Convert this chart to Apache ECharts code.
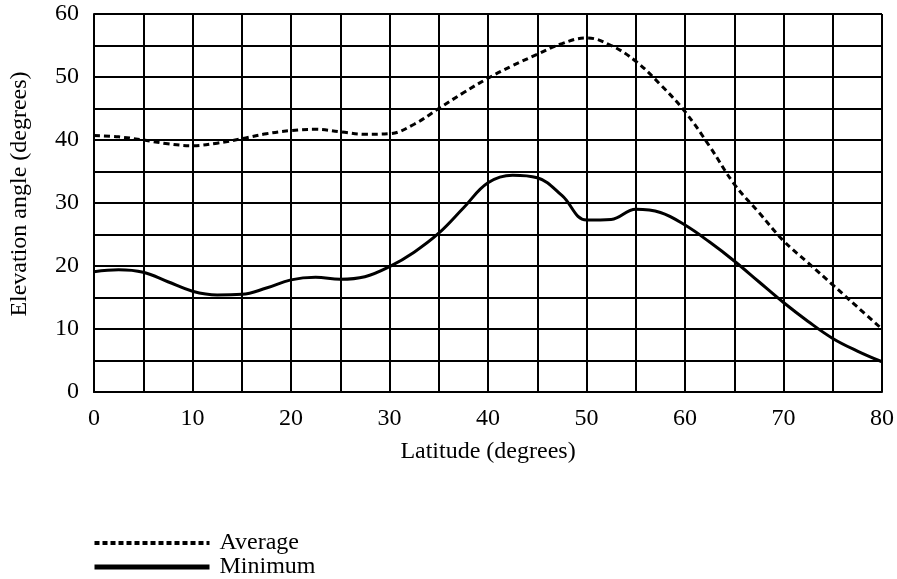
<!DOCTYPE html>
<html>
<head>
<meta charset="utf-8">
<script src="https://cdn.jsdelivr.net/npm/echarts@6/dist/echarts.min.js"></script>
<style>
  html, body { margin: 0; padding: 0; background: #fff; }
  #container { width: 897px; height: 579px; }
</style>
</head>
<body>
<div id="container"></div>
<script>
// latitude samples (degrees)
const latitude = [0, 2.5, 5, 7.5, 10, 12.5, 15, 17.5, 20, 22.5, 25, 27.5, 30, 32.5, 35, 37.5,
  40, 42.5, 45, 47.5, 50, 52.5, 55, 57.5, 60, 62.5, 65, 67.5, 70, 72.5, 75, 77.5, 80];
// elevation angles
const average = [40.7, 40.5, 40.0, 39.4, 39.1, 39.5, 40.2, 41.0, 41.5, 41.7, 41.3, 40.9, 41.0, 42.5, 45.0, 47.5,
  49.8, 51.8, 53.6, 55.3, 56.2, 55.0, 52.5, 48.8, 44.5, 39.0, 33.0, 28.5, 24.0, 20.5, 17.0, 13.5, 10.0];
const minimum = [19.1, 19.4, 19.0, 17.5, 16.0, 15.4, 15.5, 16.5, 17.8, 18.2, 17.9, 18.3, 19.9, 22.2, 25.2, 29.2,
  33.2, 34.4, 34.0, 31.2, 27.3, 27.4, 29.0, 28.5, 26.5, 23.8, 20.8, 17.5, 14.2, 11.2, 8.5, 6.5, 4.8];

const font = 'Liberation Serif';
const fs = 24;
const pair = (xs, ys) => xs.map((x, i) => [x, ys[i]]);
// only every other grid line gets a label
const tens = (v) => (v % 10 === 0 ? String(v) : '');

var graph = echarts.init(document.getElementById('container'));
let option = {
  animation: false,
  textStyle: { fontFamily: font, color: '#000' },
  grid: { left: 92, right: 12, top: 14, bottom: 187 },
  legend: {
    left: 92,
    top: 531,
    padding: 0,
    orient: 'vertical',
    itemWidth: 115,
    itemHeight: 20,
    itemGap: 0,
    textStyle: { fontFamily: font, fontSize: fs, color: '#000', lineHeight: 20, padding: [0, 0, 0, 5] },
    data: [
      {
        name: 'Average',
        itemStyle: { opacity: 0 },
        lineStyle: { color: '#000', width: 4, type: [5, 3] }
      },
      {
        name: 'Minimum',
        itemStyle: { opacity: 0 },
        lineStyle: { color: '#000', width: 5, type: 'solid' }
      }
    ]
  },
  xAxis: {
    type: 'value',
    min: 0,
    max: 80,
    interval: 5,
    name: 'Latitude (degrees)',
    nameLocation: 'middle',
    nameGap: 48,
    nameTextStyle: { fontFamily: font, fontSize: fs, color: '#000' },
    axisLine: { lineStyle: { color: '#000', width: 2 } },
    axisTick: { show: false },
    axisLabel: { fontFamily: font, fontSize: fs, color: '#000', margin: 15, formatter: tens },
    splitLine: { show: true, lineStyle: { color: '#000', width: 2 } }
  },
  yAxis: {
    type: 'value',
    min: 0,
    max: 60,
    interval: 5,
    name: 'Elevation angle (degrees)',
    nameLocation: 'middle',
    nameGap: 62,
    nameTextStyle: { fontFamily: font, fontSize: fs, color: '#000', padding: [0, 0, 0, 18] },
    axisLine: { show: true, lineStyle: { color: '#000', width: 2 } },
    axisTick: { show: false },
    axisLabel: { fontFamily: font, fontSize: fs, color: '#000', margin: 15, formatter: tens },
    splitLine: { show: true, lineStyle: { color: '#000', width: 2 } }
  },
  series: [
    {
      name: 'Average',
      type: 'line',
      smooth: 0.4,
      symbol: 'none',
      data: pair(latitude, average),
      lineStyle: { color: '#000', width: 3, type: [6, 4] },
      itemStyle: { color: '#000' }
    },
    {
      name: 'Minimum',
      type: 'line',
      smooth: 0.4,
      symbol: 'none',
      data: pair(latitude, minimum),
      lineStyle: { color: '#000', width: 3 },
      itemStyle: { color: '#000' }
    }
  ]
};

if (option && typeof option === 'object') {
  graph.setOption(option);
}
</script>
</body>
</html>
